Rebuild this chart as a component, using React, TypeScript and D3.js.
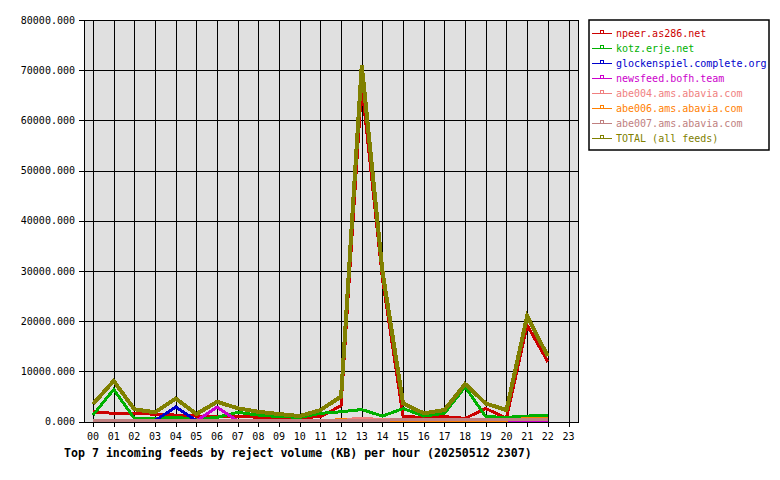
import React from 'react';
import * as d3 from 'd3';

const hours = ['00','01','02','03','04','05','06','07','08','09','10','11','12','13','14','15','16','17','18','19','20','21','22','23'];
const yTicks = [0, 10000, 20000, 30000, 40000, 50000, 60000, 70000, 80000];

// values per hour 00..22 (no data for 23)
const npeer = [1950, 1650, 1700, 1450, 1300, 1100, 980, 1100, 850, 900, 850, 950, 3200, 67000, 28500, 1000, 850, 980, 650, 2600, 700, 19200, 11900];
const kotz = [1300, 6400, 650, 650, 850, 450, 850, 1850, 1300, 1000, 850, 1650, 1950, 2400, 1100, 2600, 1100, 1650, 6900, 980, 850, 1100, 1300];
const glockenspiel = [0, 0, 0, 200, 2900, 200, 0, 0, 0, 0, 0, 0, 0, 0, 0, 0, 0, 0, 0, 0, 0, 0, 0];
const newsfeed = [0, 0, 0, 0, 0, 100, 2900, 100, 0, 0, 0, 0, 0, 0, 0, 0, 0, 0, 0, 0, 200, 200, 0];
const abe004 = [300, 300, 300, 300, 300, 300, 300, 300, 300, 300, 300, 300, 300, 700, 350, 300, 300, 300, 300, 350, 400, 400, 350];
const abe006 = [0, 0, 0, 0, 0, 0, 0, 0, 0, 0, 0, 0, 450, 0, 0, 0, 0, 0, 0, 0, 300, 600, 600];
const abe007 = [300, 300, 300, 300, 300, 300, 300, 300, 300, 300, 300, 300, 300, 300, 300, 350, 350, 350, 350, 400, 450, 450, 450];
const total = [3500, 8100, 2450, 1850, 4600, 1500, 3950, 2650, 1950, 1500, 1100, 2300, 5000, 71000, 30000, 3600, 1650, 2300, 7500, 3600, 2300, 21000, 13000];

const feeds = [
  { name: 'npeer.as286.net', color: '#cc0000', values: npeer, width: 3 },
  { name: 'kotz.erje.net', color: '#00b000', values: kotz, width: 3 },
  { name: 'glockenspiel.complete.org', color: '#0000cc', values: glockenspiel, width: 3 },
  { name: 'newsfeed.bofh.team', color: '#cc00cc', values: newsfeed, width: 3 },
  { name: 'abe004.ams.abavia.com', color: '#f08080', values: abe004, width: 3 },
  { name: 'abe006.ams.abavia.com', color: '#ff8000', values: abe006, width: 3 },
  { name: 'abe007.ams.abavia.com', color: '#c08080', values: abe007, width: 3 },
  { name: 'TOTAL (all feeds)', color: '#808000', values: total, width: 4 },
];

const mono = '"DejaVu Sans Mono", monospace';

export default function App() {
  const plot = { left: 84, right: 579, top: 20, bottom: 422 };
  const x = d3.scaleLinear().domain([0, 23]).range([93, 568.5]);
  const y = d3.scaleLinear().domain([0, 80000]).range([421.6, 20]);
  const line = d3.line<number>().x((_, i) => x(i)).y(d => y(d));

  return (
    <div style={{ position: 'absolute', left: 0, top: 0 }}>
      <svg width={780} height={480} style={{ display: 'block', background: '#fff' }}>
        <rect x={plot.left} y={plot.top} width={plot.right - plot.left} height={plot.bottom - plot.top} fill="#e0e0e0" />
        {yTicks.map(t => (
          <g key={t}>
            <line x1={79} x2={plot.right} y1={Math.round(y(t)) + 0.5} y2={Math.round(y(t)) + 0.5} stroke="#000" />
            <text x={75} y={y(t)} dy="0.35em" textAnchor="end" fontFamily={mono} fontSize={10}>
              {t.toFixed(3)}
            </text>
          </g>
        ))}
        {hours.map((h, i) => (
          <g key={h}>
            <line x1={Math.round(x(i)) + 0.5} x2={Math.round(x(i)) + 0.5} y1={plot.top} y2={plot.bottom + 5} stroke="#000" />
            <text x={x(i)} y={436} dy="0.35em" textAnchor="middle" fontFamily={mono} fontSize={10}>{h}</text>
          </g>
        ))}
        {feeds.map(f => (
          <path key={f.name} d={line(f.values) || ''} fill="none" stroke={f.color} strokeWidth={f.width}
            strokeLinejoin="miter" shapeRendering="crispEdges" />
        ))}
        <rect x={plot.left + 0.5} y={plot.top + 0.5} width={plot.right - plot.left - 1} height={plot.bottom - plot.top} fill="none" stroke="#000" />
        <text x={64} y={453} dy="0.35em" fontFamily={mono} fontSize={11.6} fontWeight="bold">
          Top 7 incoming feeds by reject volume (KB) per hour (20250512 2307)
        </text>
        <rect x={589} y={20} width={180} height={130} fill="#fff" stroke="#000" strokeWidth={1.5} />
        {feeds.map((f, i) => {
          const ly = 33 + i * 15;
          return (
            <g key={f.name}>
              <line x1={592} x2={612} y1={ly + 0.5} y2={ly + 0.5} stroke={f.color} />
              <rect x={600.5} y={ly - 2.5} width={3} height={3} fill="none" stroke={f.color} />
              <text x={616} y={ly} dy="0.35em" fontFamily={mono} fontSize={10} fill={f.color}>{f.name}</text>
            </g>
          );
        })}
      </svg>
    </div>
  );
}
